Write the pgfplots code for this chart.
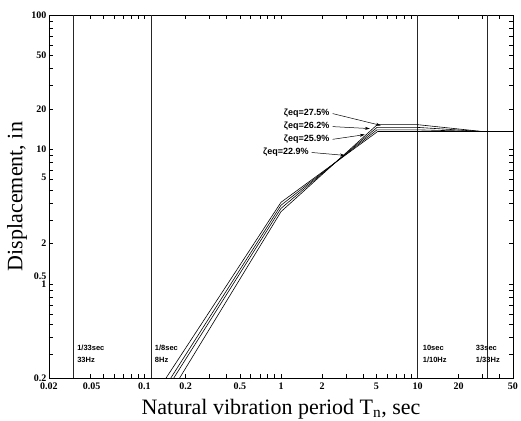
\documentclass[border=0pt]{standalone}
\usepackage{fontspec}
\setmainfont{Liberation Serif}
\newfontfamily\annfont{Liberation Sans}
\usepackage{pgfplots}
\pgfplotsset{compat=1.18}
\usetikzlibrary{arrows.meta}
\begin{document}
\begin{tikzpicture}
\begin{axis}[
  at={(49pt,42pt)}, anchor=south west,
  scale only axis, width=464pt, height=363pt,
  xmode=log, ymode=log,
  xmin=0.02, xmax=50, ymin=0.2, ymax=100,
  axis line style={line width=0.9pt},
  tick align=inside, xtick pos=both, ytick pos=both,
  xticklabel pos=bottom, yticklabel pos=left,
  major tick length=0pt, minor tick length=4.5pt,
  every tick/.style={black, line width=0.6pt},
  /pgf/number format/assume math mode=true,
  xtick={0.02,0.041,0.1,0.2,0.5,1,2,5,10,20,50},
  xticklabels={0.02,0.05,0.1,0.2,0.5,1,2,5,10,20,50},
  minor xtick={0.03,0.04,0.05,0.06,0.07,0.08,0.09,0.1,0.2,0.3,0.4,0.5,0.6,0.7,0.8,0.9,1,2,3,4,5,6,7,8,9,10,20,30,40},
  ytick={0.2,1,1.146,2,6.2,10,20,50,100},
  yticklabels={0.2,1,0.5,2,5,10,20,50,100},
  minor ytick={0.3,0.4,0.5,0.6,0.7,0.8,0.9,1,2,3,4,5,6,7,8,9,10,20,30,40,50,60,70,80,90},
  tick label style={font=\bfseries\fontsize{10}{12}\selectfont},
  xticklabel style={yshift=-1pt},
  yticklabel style={xshift=1pt},
  xlabel={Natural vibration period T\textsubscript{n}, sec},
  ylabel={Displacement, in},
  xlabel style={font=\fontsize{22}{24}\selectfont, at={(axis description cs:0.5,-0.085)}, anchor=center},
  ylabel style={font=\fontsize{22}{24}\selectfont, at={(axis description cs:-0.069,0.5)}, anchor=center},
  clip=true,
]
% vertical reference lines
\addplot[black!85, line width=0.7pt] coordinates {(0.0303,0.2) (0.0303,100)};
\addplot[black!85, line width=0.7pt] coordinates {(0.112,0.2) (0.112,100)};
\addplot[black!85, line width=0.7pt] coordinates {(10,0.2) (10,100)};
\addplot[black!85, line width=0.7pt] coordinates {(32.7,0.2) (32.7,100)};
% spectra
\addplot[black, line width=0.6pt] coordinates {(0.144,0.2) (1,4.05) (5.1,13.6) (50,13.6)};
\addplot[black, line width=0.6pt] coordinates {(0.156,0.2) (1,3.85) (5.04,14.0) (10,14.0) (30,13.6) (50,13.6)};
\addplot[black, line width=0.6pt] coordinates {(0.164,0.2) (1,3.65) (5.05,14.6) (10,14.6) (30,13.6) (50,13.6)};
\addplot[black, line width=0.6pt] coordinates {(0.181,0.2) (1,3.45) (5.07,15.3) (10,15.3) (30,13.6) (50,13.6)};
% line labels
\node[anchor=west, align=left, inner sep=0pt, font=\annfont\bfseries\fontsize{7.5}{12}\selectfont] at (axis cs:0.0321,0.303) {1/33sec\\33Hz};
\node[anchor=west, align=left, inner sep=0pt, font=\annfont\bfseries\fontsize{7.5}{12}\selectfont] at (axis cs:0.119,0.303) {1/8sec\\8Hz};
\node[anchor=west, align=left, inner sep=0pt, font=\annfont\bfseries\fontsize{7.5}{12}\selectfont] at (axis cs:10.9,0.303) {10sec\\1/10Hz};
\node[anchor=west, align=left, inner sep=0pt, font=\annfont\bfseries\fontsize{7.5}{12}\selectfont] at (axis cs:26.7,0.303) {33sec\\1/33Hz};
% damping annotations
\node[anchor=west, inner sep=1pt, font=\annfont\bfseries\fontsize{9}{10}\selectfont] (a1) at (axis cs:1.03,18.5) {ζeq=27.5\%};
\node[anchor=west, inner sep=1pt, font=\annfont\bfseries\fontsize{9}{10}\selectfont] (a2) at (axis cs:1.03,14.8) {ζeq=26.2\%};
\node[anchor=west, inner sep=1pt, font=\annfont\bfseries\fontsize{9}{10}\selectfont] (a3) at (axis cs:1.03,11.9) {ζeq=25.9\%};
\node[anchor=west, inner sep=1pt, font=\annfont\bfseries\fontsize{9}{10}\selectfont] (a4) at (axis cs:0.725,9.5) {ζeq=22.9\%};
\draw[line width=0.5pt, -{Stealth[length=5pt,width=3pt]}] ([xshift=2pt]a1.east) -- (axis cs:5.39,15.1);
\draw[line width=0.5pt, -{Stealth[length=5pt,width=3pt]}] ([xshift=2pt]a2.east) -- (axis cs:4.48,14.3);
\draw[line width=0.5pt, -{Stealth[length=5pt,width=3pt]}] ([xshift=2pt]a3.east) -- (axis cs:4.11,12.9);
\draw[line width=0.5pt, -{Stealth[length=5pt,width=3pt]}] ([xshift=2pt]a4.east) -- (axis cs:2.94,9.04);
\end{axis}
\pgfresetboundingbox
\path[use as bounding box] (0,0) rectangle (521pt,420pt);
\end{tikzpicture}
\end{document}
